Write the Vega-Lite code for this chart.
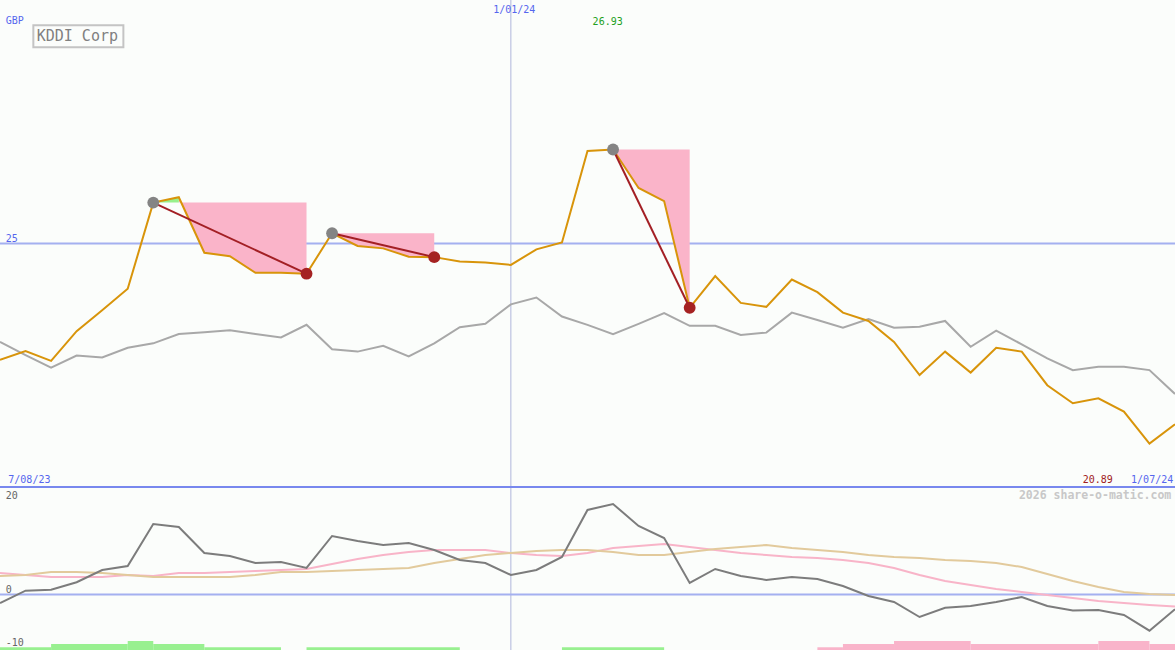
{
  "$schema": "https://vega.github.io/schema/vega-lite/v6.json",
  "background": "#fbfdfb",
  "padding": 0,
  "spacing": 0,
  "bounds": "flush",
  "resolve": {"scale": {"color": "independent"}},
  "config": {"view": {"stroke": null}, "text": {"font": "DejaVu Sans Mono"}},
  "datasets": {
    "prices": [
      {"i":0,"price":22.61,"rel":22.98},{"i":1,"price":22.79,"rel":22.71},{"i":2,"price":22.59,"rel":22.45},
      {"i":3,"price":23.20,"rel":22.70},{"i":4,"price":23.63,"rel":22.66},{"i":5,"price":24.07,"rel":22.86},
      {"i":6,"price":25.84,"rel":22.95},{"i":7,"price":25.95,"rel":23.14},{"i":8,"price":24.81,"rel":23.18},
      {"i":9,"price":24.74,"rel":23.22},{"i":10,"price":24.40,"rel":23.14},{"i":11,"price":24.40,"rel":23.07},
      {"i":12,"price":24.38,"rel":23.33},{"i":13,"price":25.21,"rel":22.83},{"i":14,"price":24.95,"rel":22.78},
      {"i":15,"price":24.90,"rel":22.90},{"i":16,"price":24.73,"rel":22.68},{"i":17,"price":24.72,"rel":22.95},
      {"i":18,"price":24.63,"rel":23.28},{"i":19,"price":24.61,"rel":23.35},{"i":20,"price":24.56,"rel":23.75},
      {"i":21,"price":24.88,"rel":23.89},{"i":22,"price":25.02,"rel":23.50},{"i":23,"price":26.90,"rel":23.33},
      {"i":24,"price":26.93,"rel":23.14},{"i":25,"price":26.14,"rel":23.35},{"i":26,"price":25.87,"rel":23.57},
      {"i":27,"price":23.68,"rel":23.31},{"i":28,"price":24.33,"rel":23.31},{"i":29,"price":23.78,"rel":23.12},
      {"i":30,"price":23.70,"rel":23.17},{"i":31,"price":24.26,"rel":23.58},{"i":32,"price":24.00,"rel":23.43},
      {"i":33,"price":23.58,"rel":23.27},{"i":34,"price":23.41,"rel":23.45},{"i":35,"price":22.98,"rel":23.27},
      {"i":36,"price":22.30,"rel":23.29},{"i":37,"price":22.78,"rel":23.41},{"i":38,"price":22.35,"rel":22.88},
      {"i":39,"price":22.86,"rel":23.21},{"i":40,"price":22.78,"rel":22.93},{"i":41,"price":22.09,"rel":22.64},
      {"i":42,"price":21.72,"rel":22.40},{"i":43,"price":21.82,"rel":22.47},{"i":44,"price":21.55,"rel":22.47},
      {"i":45,"price":20.89,"rel":22.40},{"i":46,"price":21.29,"rel":21.91}
    ],
    "loss": [
      {"seg":1,"i":7,"price":25.95,"top":25.84},{"seg":1,"i":8,"price":24.81,"top":25.84},{"seg":1,"i":9,"price":24.74,"top":25.84},
      {"seg":1,"i":10,"price":24.40,"top":25.84},{"seg":1,"i":11,"price":24.40,"top":25.84},{"seg":1,"i":12,"price":24.38,"top":25.84},
      {"seg":2,"i":13,"price":25.21,"top":25.21},{"seg":2,"i":14,"price":24.95,"top":25.21},{"seg":2,"i":15,"price":24.90,"top":25.21},
      {"seg":2,"i":16,"price":24.73,"top":25.21},{"seg":2,"i":17,"price":24.72,"top":25.21},
      {"seg":3,"i":24,"price":26.93,"top":26.93},{"seg":3,"i":25,"price":26.14,"top":26.93},{"seg":3,"i":26,"price":25.87,"top":26.93},
      {"seg":3,"i":27,"price":23.68,"top":26.93}
    ],
    "gain": [
      {"seg":1,"i":6,"price":25.84,"top":25.84},{"seg":1,"i":7,"price":25.95,"top":25.84}
    ],
    "drops": [
      {"seg":1,"i":6,"price":25.84,"kind":"peak"},{"seg":1,"i":12,"price":24.38,"kind":"trough"},
      {"seg":2,"i":13,"price":25.21,"kind":"peak"},{"seg":2,"i":17,"price":24.72,"kind":"trough"},
      {"seg":3,"i":24,"price":26.93,"kind":"peak"},{"seg":3,"i":27,"price":23.68,"kind":"trough"}
    ],
    "refTop": [{"i":20,"price":25,"edge":20}],
    "refBottom": [{"i":20,"v":0,"edge":22.87}],
    "box": [{"i0":1.305,"i1":4.83,"v0":29.029,"v1":29.48}],
    "labelsTop": [
      {"label":"GBP","i":0.223,"v":29.50,"style":"blue"},
      {"label":"25","i":0.223,"v":25.03,"style":"blue"},
      {"label":"1/01/24","i":19.31,"v":29.74,"style":"blue"},
      {"label":"7/08/23","i":0.325,"v":20.088,"style":"blue"},
      {"label":"1/07/24","i":44.28,"v":20.088,"style":"blue"},
      {"label":"26.93","i":23.20,"v":29.487,"style":"green"},
      {"label":"20.89","i":42.39,"v":20.088,"style":"red"},
      {"label":"KDDI Corp","i":1.437,"v":29.158,"style":"title"}
    ],
    "labelsBottom": [
      {"label":"20","i":0.223,"v":20.26,"style":"grey"},
      {"label":"0","i":0.223,"v":0.38,"style":"grey"},
      {"label":"-10","i":0.223,"v":-10.89,"style":"grey"},
      {"label":"2026 share-o-matic.com","i":39.89,"v":20.26,"style":"brand"}
    ],
    "ind": [
      {"i":0,"mom":-1.81,"ma1":4.57,"ma2":3.94},{"i":1,"mom":0.81,"ma1":4.15,"ma2":4.15},{"i":2,"mom":1.02,"ma1":3.72,"ma2":4.79},
      {"i":3,"mom":2.60,"ma1":3.72,"ma2":4.79},{"i":4,"mom":5.21,"ma1":3.72,"ma2":4.57},{"i":5,"mom":6.06,"ma1":4.15,"ma2":4.15},
      {"i":6,"mom":15.0,"ma1":3.94,"ma2":3.72},{"i":7,"mom":14.36,"ma1":4.57,"ma2":3.72},{"i":8,"mom":8.83,"ma1":4.57,"ma2":3.72},
      {"i":9,"mom":8.19,"ma1":4.79,"ma2":3.72},{"i":10,"mom":6.70,"ma1":5.0,"ma2":4.15},{"i":11,"mom":6.91,"ma1":5.21,"ma2":4.79},
      {"i":12,"mom":5.64,"ma1":5.43,"ma2":4.79},{"i":13,"mom":12.45,"ma1":6.49,"ma2":5.0},{"i":14,"mom":11.38,"ma1":7.55,"ma2":5.21},
      {"i":15,"mom":10.53,"ma1":8.40,"ma2":5.43},{"i":16,"mom":10.96,"ma1":9.04,"ma2":5.64},{"i":17,"mom":9.47,"ma1":9.47,"ma2":6.70},
      {"i":18,"mom":7.34,"ma1":9.47,"ma2":7.55},{"i":19,"mom":6.70,"ma1":9.47,"ma2":8.40},{"i":20,"mom":4.15,"ma1":8.83,"ma2":8.83},
      {"i":21,"mom":5.21,"ma1":8.40,"ma2":9.26},{"i":22,"mom":7.98,"ma1":8.19,"ma2":9.47},{"i":23,"mom":17.98,"ma1":8.83,"ma2":9.47},
      {"i":24,"mom":19.26,"ma1":9.89,"ma2":9.04},{"i":25,"mom":14.57,"ma1":10.32,"ma2":8.40},{"i":26,"mom":12.02,"ma1":10.74,"ma2":8.40},
      {"i":27,"mom":2.45,"ma1":10.11,"ma2":9.04},{"i":28,"mom":5.43,"ma1":9.47,"ma2":9.68},{"i":29,"mom":3.94,"ma1":8.83,"ma2":10.11},
      {"i":30,"mom":3.09,"ma1":8.40,"ma2":10.53},{"i":31,"mom":3.72,"ma1":7.98,"ma2":9.89},{"i":32,"mom":3.30,"ma1":7.77,"ma2":9.47},
      {"i":33,"mom":1.81,"ma1":7.34,"ma2":9.04},{"i":34,"mom":-0.32,"ma1":6.70,"ma2":8.40},{"i":35,"mom":-1.60,"ma1":5.64,"ma2":7.98},
      {"i":36,"mom":-4.79,"ma1":4.15,"ma2":7.77},{"i":37,"mom":-2.81,"ma1":2.87,"ma2":7.34},{"i":38,"mom":-2.45,"ma1":2.02,"ma2":7.13},
      {"i":39,"mom":-1.60,"ma1":1.17,"ma2":6.70},{"i":40,"mom":-0.53,"ma1":0.53,"ma2":5.85},{"i":41,"mom":-2.45,"ma1":-0.11,"ma2":4.36},
      {"i":42,"mom":-3.40,"ma1":-0.74,"ma2":2.87},{"i":43,"mom":-3.30,"ma1":-1.38,"ma2":1.60},{"i":44,"mom":-4.36,"ma1":-1.81,"ma2":0.53},
      {"i":45,"mom":-7.70,"ma1":-2.23,"ma2":0.11},{"i":46,"mom":-3.15,"ma1":-2.55,"ma2":-0.11}
    ],
    "bars": [
      {"i0":0,"i1":2,"top":-11.23,"kind":"up"},{"i0":2,"i1":5,"top":-10.53,"kind":"up"},{"i0":5,"i1":6,"top":-9.89,"kind":"up"},
      {"i0":6,"i1":8,"top":-10.53,"kind":"up"},{"i0":8,"i1":11,"top":-11.23,"kind":"up"},{"i0":12,"i1":18,"top":-11.23,"kind":"up"},
      {"i0":22,"i1":26,"top":-11.23,"kind":"up"},
      {"i0":32,"i1":33,"top":-11.23,"kind":"down"},{"i0":33,"i1":35,"top":-10.53,"kind":"down"},{"i0":35,"i1":38,"top":-9.89,"kind":"down"},
      {"i0":38,"i1":43,"top":-10.53,"kind":"down"},{"i0":43,"i1":45,"top":-9.89,"kind":"down"},{"i0":45,"i1":46,"top":-10.53,"kind":"down"}
    ]
  },
  "vconcat": [
    {
      "width": 1175,
      "height": 487,
      "layer": [
        {
          "data": {"name": "refTop"},
          "mark": {"type": "rule", "color": "#b0b6dc", "strokeWidth": 1, "clip": true},
          "encoding": {"x": {"field": "i", "type": "quantitative", "scale": {"domain": [0, 46], "nice": false, "zero": false}, "axis": null}}
        },
        {
          "data": {"name": "refTop"},
          "mark": {"type": "rule", "color": "#a4b0f0", "strokeWidth": 2, "clip": true},
          "encoding": {"y": {"field": "price", "type": "quantitative", "scale": {"domain": [20, 30], "nice": false, "zero": false}, "axis": null}}
        },
        {
          "data": {"name": "refTop"},
          "mark": {"type": "rule", "color": "#7888ee", "strokeWidth": 2, "clip": true},
          "encoding": {"y": {"field": "edge", "type": "quantitative", "scale": {"domain": [20, 30], "nice": false, "zero": false}, "axis": null}}
        },
        {
          "data": {"name": "loss"},
          "mark": {"type": "area", "color": "#fab4c9", "opacity": 1, "clip": true},
          "encoding": {
            "x": {"field": "i", "type": "quantitative", "scale": {"domain": [0, 46], "nice": false, "zero": false}, "axis": null},
            "y": {"field": "price", "type": "quantitative", "scale": {"domain": [20, 30], "nice": false, "zero": false}, "axis": null},
            "y2": {"field": "top"},
            "detail": {"field": "seg"}
          }
        },
        {
          "data": {"name": "gain"},
          "mark": {"type": "area", "color": "#98f08c", "opacity": 1, "clip": true},
          "encoding": {
            "x": {"field": "i", "type": "quantitative", "scale": {"domain": [0, 46], "nice": false, "zero": false}, "axis": null},
            "y": {"field": "price", "type": "quantitative", "scale": {"domain": [20, 30], "nice": false, "zero": false}, "axis": null},
            "y2": {"field": "top"}
          }
        },
        {
          "data": {"name": "prices"},
          "mark": {"type": "line", "color": "#a8a8a8", "strokeWidth": 2, "clip": true},
          "encoding": {
            "x": {"field": "i", "type": "quantitative", "scale": {"domain": [0, 46], "nice": false, "zero": false}, "axis": null},
            "y": {"field": "rel", "type": "quantitative", "scale": {"domain": [20, 30], "nice": false, "zero": false}, "axis": null}
          }
        },
        {
          "data": {"name": "prices"},
          "mark": {"type": "line", "color": "#d8940a", "strokeWidth": 2, "clip": true},
          "encoding": {
            "x": {"field": "i", "type": "quantitative", "scale": {"domain": [0, 46], "nice": false, "zero": false}, "axis": null},
            "y": {"field": "price", "type": "quantitative", "scale": {"domain": [20, 30], "nice": false, "zero": false}, "axis": null}
          }
        },
        {
          "data": {"name": "drops"},
          "mark": {"type": "line", "color": "#a31f24", "strokeWidth": 2, "clip": true},
          "encoding": {
            "x": {"field": "i", "type": "quantitative", "scale": {"domain": [0, 46], "nice": false, "zero": false}, "axis": null},
            "y": {"field": "price", "type": "quantitative", "scale": {"domain": [20, 30], "nice": false, "zero": false}, "axis": null},
            "detail": {"field": "seg"}
          }
        },
        {
          "data": {"name": "drops"},
          "mark": {"type": "point", "filled": true, "opacity": 1, "size": 140, "clip": true},
          "encoding": {
            "x": {"field": "i", "type": "quantitative", "scale": {"domain": [0, 46], "nice": false, "zero": false}, "axis": null},
            "y": {"field": "price", "type": "quantitative", "scale": {"domain": [20, 30], "nice": false, "zero": false}, "axis": null},
            "color": {"field": "kind", "type": "nominal", "scale": {"domain": ["peak", "trough"], "range": ["#848484", "#a52222"]}, "legend": null}
          }
        },
        {
          "data": {"name": "box"},
          "mark": {"type": "rect", "fill": "#fbfdfb", "stroke": "#c4c4c4", "strokeWidth": 2, "clip": true},
          "encoding": {
            "x": {"field": "i0", "type": "quantitative", "scale": {"domain": [0, 46], "nice": false, "zero": false}, "axis": null},
            "x2": {"field": "i1"},
            "y": {"field": "v0", "type": "quantitative", "scale": {"domain": [20, 30], "nice": false, "zero": false}, "axis": null},
            "y2": {"field": "v1"}
          }
        },
        {
          "data": {"name": "labelsTop"},
          "transform": [{"filter": "datum.style === 'blue'"}],
          "mark": {"type": "text", "align": "left", "baseline": "alphabetic", "fontSize": 10, "color": "#5566ee"},
          "encoding": {
            "x": {"field": "i", "type": "quantitative", "scale": {"domain": [0, 46], "nice": false, "zero": false}, "axis": null},
            "y": {"field": "v", "type": "quantitative", "scale": {"domain": [20, 30], "nice": false, "zero": false}, "axis": null},
            "text": {"field": "label"}
          }
        },
        {
          "data": {"name": "labelsTop"},
          "transform": [{"filter": "datum.style === 'green'"}],
          "mark": {"type": "text", "align": "left", "baseline": "alphabetic", "fontSize": 10, "color": "#22a022"},
          "encoding": {
            "x": {"field": "i", "type": "quantitative", "scale": {"domain": [0, 46], "nice": false, "zero": false}, "axis": null},
            "y": {"field": "v", "type": "quantitative", "scale": {"domain": [20, 30], "nice": false, "zero": false}, "axis": null},
            "text": {"field": "label"}
          }
        },
        {
          "data": {"name": "labelsTop"},
          "transform": [{"filter": "datum.style === 'red'"}],
          "mark": {"type": "text", "align": "left", "baseline": "alphabetic", "fontSize": 10, "color": "#a02020"},
          "encoding": {
            "x": {"field": "i", "type": "quantitative", "scale": {"domain": [0, 46], "nice": false, "zero": false}, "axis": null},
            "y": {"field": "v", "type": "quantitative", "scale": {"domain": [20, 30], "nice": false, "zero": false}, "axis": null},
            "text": {"field": "label"}
          }
        },
        {
          "data": {"name": "labelsTop"},
          "transform": [{"filter": "datum.style === 'title'"}],
          "mark": {"type": "text", "align": "left", "baseline": "alphabetic", "fontSize": 15, "color": "#808080"},
          "encoding": {
            "x": {"field": "i", "type": "quantitative", "scale": {"domain": [0, 46], "nice": false, "zero": false}, "axis": null},
            "y": {"field": "v", "type": "quantitative", "scale": {"domain": [20, 30], "nice": false, "zero": false}, "axis": null},
            "text": {"field": "label"}
          }
        }
      ]
    },
    {
      "width": 1175,
      "height": 163,
      "layer": [
        {
          "data": {"name": "refBottom"},
          "mark": {"type": "rule", "color": "#b0b6dc", "strokeWidth": 1, "clip": true},
          "encoding": {"x": {"field": "i", "type": "quantitative", "scale": {"domain": [0, 46], "nice": false, "zero": false}, "axis": null}}
        },
        {
          "data": {"name": "bars"},
          "mark": {"type": "rect", "opacity": 1, "clip": true},
          "encoding": {
            "x": {"field": "i0", "type": "quantitative", "scale": {"domain": [0, 46], "nice": false, "zero": false}, "axis": null},
            "x2": {"field": "i1"},
            "y": {"field": "top", "type": "quantitative", "scale": {"domain": [-11.81, 22.87], "nice": false, "zero": false}, "axis": null},
            "y2": {"datum": -11.81},
            "color": {"field": "kind", "type": "nominal", "scale": {"domain": ["up", "down"], "range": ["#98f090", "#f9b4ca"]}, "legend": null}
          }
        },
        {
          "data": {"name": "refBottom"},
          "mark": {"type": "rule", "color": "#a4b0f0", "strokeWidth": 2, "clip": true},
          "encoding": {"y": {"field": "v", "type": "quantitative", "scale": {"domain": [-11.81, 22.87], "nice": false, "zero": false}, "axis": null}}
        },
        {
          "data": {"name": "refBottom"},
          "mark": {"type": "rule", "color": "#7888ee", "strokeWidth": 2, "clip": true},
          "encoding": {"y": {"field": "edge", "type": "quantitative", "scale": {"domain": [-11.81, 22.87], "nice": false, "zero": false}, "axis": null}}
        },
        {
          "data": {"name": "ind"},
          "mark": {"type": "line", "color": "#f8b4c8", "strokeWidth": 2, "clip": true},
          "encoding": {
            "x": {"field": "i", "type": "quantitative", "scale": {"domain": [0, 46], "nice": false, "zero": false}, "axis": null},
            "y": {"field": "ma1", "type": "quantitative", "scale": {"domain": [-11.81, 22.87], "nice": false, "zero": false}, "axis": null}
          }
        },
        {
          "data": {"name": "ind"},
          "mark": {"type": "line", "color": "#e2ca9c", "strokeWidth": 2, "clip": true},
          "encoding": {
            "x": {"field": "i", "type": "quantitative", "scale": {"domain": [0, 46], "nice": false, "zero": false}, "axis": null},
            "y": {"field": "ma2", "type": "quantitative", "scale": {"domain": [-11.81, 22.87], "nice": false, "zero": false}, "axis": null}
          }
        },
        {
          "data": {"name": "ind"},
          "mark": {"type": "line", "color": "#7c7c7c", "strokeWidth": 2, "clip": true},
          "encoding": {
            "x": {"field": "i", "type": "quantitative", "scale": {"domain": [0, 46], "nice": false, "zero": false}, "axis": null},
            "y": {"field": "mom", "type": "quantitative", "scale": {"domain": [-11.81, 22.87], "nice": false, "zero": false}, "axis": null}
          }
        },
        {
          "data": {"name": "labelsBottom"},
          "transform": [{"filter": "datum.style === 'grey'"}],
          "mark": {"type": "text", "align": "left", "baseline": "alphabetic", "fontSize": 10, "color": "#666666"},
          "encoding": {
            "x": {"field": "i", "type": "quantitative", "scale": {"domain": [0, 46], "nice": false, "zero": false}, "axis": null},
            "y": {"field": "v", "type": "quantitative", "scale": {"domain": [-11.81, 22.87], "nice": false, "zero": false}, "axis": null},
            "text": {"field": "label"}
          }
        },
        {
          "data": {"name": "labelsBottom"},
          "transform": [{"filter": "datum.style === 'brand'"}],
          "mark": {"type": "text", "align": "left", "baseline": "alphabetic", "fontSize": 11.5, "fontWeight": "bold", "color": "#c8c8c8"},
          "encoding": {
            "x": {"field": "i", "type": "quantitative", "scale": {"domain": [0, 46], "nice": false, "zero": false}, "axis": null},
            "y": {"field": "v", "type": "quantitative", "scale": {"domain": [-11.81, 22.87], "nice": false, "zero": false}, "axis": null},
            "text": {"field": "label"}
          }
        }
      ]
    }
  ]
}
